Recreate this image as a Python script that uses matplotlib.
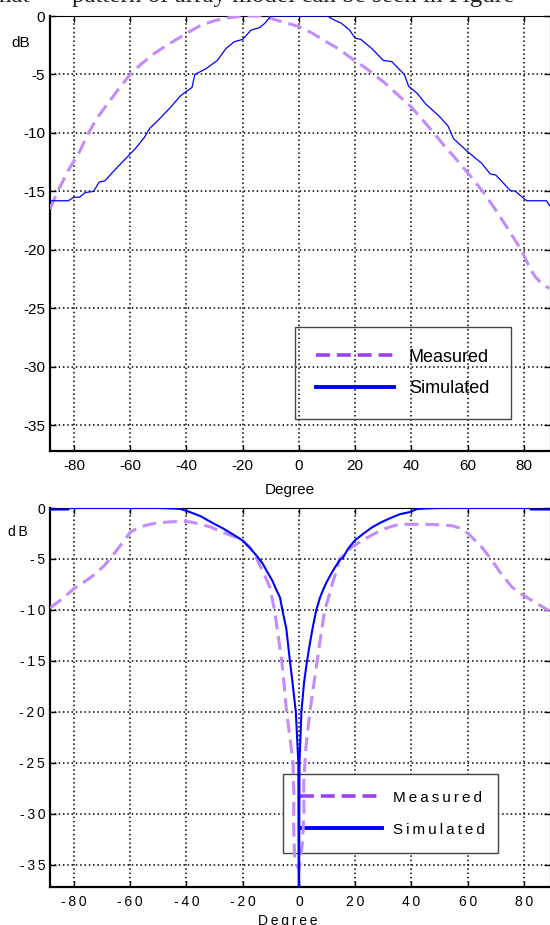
import matplotlib
matplotlib.use('Agg')
import matplotlib.pyplot as plt
from matplotlib.lines import Line2D

plt.rcParams['font.family'] = ['Liberation Sans', 'DejaVu Sans']
plt.rcParams['lines.scale_dashes'] = False

# ---------------- data ----------------
xticks = [-80, -60, -40, -20, 0, 20, 40, 60, 80]
yticks = [0, -5, -10, -15, -20, -25, -30, -35]
legend_labels = ['Measured', 'Simulated']
x_label = 'Degree'
y_label = 'dB'
caption_a = 'that'
caption_b = 'pattern of array model can be seen in Figure'

# top panel
top_meas_deg = [-88.5, -86, -82, -78, -75, -72, -68, -64, -60, -56, -52, -47, -40, -35, -30,
                -25, -20, -13, -10, -6, 0, 5, 9, 14, 18.6, 24.6, 30.4, 35, 40, 44, 48, 52,
                55.4, 60, 66, 70, 74.6, 79, 82, 84, 86, 89]
top_meas_db = [-16.5, -15.1, -13.2, -11.6, -10.1, -8.8, -7.5, -6.2, -5.0, -4.1, -3.3, -2.5,
               -1.5, -0.8, -0.4, -0.15, 0.0, 0.0, -0.2, -0.5, -0.9, -1.5, -2.1, -2.8, -3.6,
               -4.6, -5.7, -6.7, -7.8, -8.9, -10.0, -11.2, -12.1, -13.4, -15.2, -16.6,
               -18.3, -20.0, -21.5, -22.3, -22.8, -23.3]
top_sim_deg = [-88.5, -82, -80, -78, -76, -73, -71, -69, -66, -62, -58, -55, -53, -50, -46,
               -42, -38, -37, -33, -29, -26, -23, -20, -17, -14, -12, -10, 10, 13, 15, 18,
               20, 22, 26, 30, 33, 37.5, 39, 42, 45, 50, 53, 55, 60, 65, 68, 70, 72, 75,
               77, 79, 81, 88, 89.1]
top_sim_db = [-15.8, -15.8, -15.5, -15.5, -15.1, -15.0, -14.2, -14.1, -13.3, -12.3, -11.3,
              -10.4, -9.6, -8.9, -7.9, -6.8, -6.1, -5.0, -4.5, -3.8, -2.8, -2.2, -2.0, -1.2,
              -1.0, -0.6, 0.0, 0.0, -0.4, -0.6, -1.2, -1.9, -2.0, -2.8, -3.8, -3.9, -5.0,
              -6.0, -6.6, -7.5, -8.6, -9.4, -10.5, -11.6, -12.6, -13.5, -13.6, -14.1, -14.9,
              -15.0, -15.4, -15.8, -15.8, -16.2]

# bottom panel
bot_meas_deg = [-88.5, -84, -80, -76, -73, -69, -66, -63, -60, -57, -53, -50, -45, -41, -38,
                -35, -31, -28, -24, -20.3, -17, -14.6, -12.5, -10.3, -8.7, -7.4, -6.1, -5.2,
                -4.4, -3.2, -2.1, -1.8, -1.9, -1.5, 0, 1.2, 1.8, 1.7, 2.5, 3.9, 5.2, 6.5,
                7.8, 9.2, 10.3, 12, 13.4, 14.5, 17, 19, 23, 27, 30, 33, 36, 45, 50, 54.6,
                57.5, 60.6, 63, 65.2, 68.8, 72, 75.9, 80, 83, 86, 89]
bot_meas_db = [-9.8, -8.9, -7.9, -7.2, -6.6, -5.6, -4.6, -3.5, -2.4, -1.9, -1.6, -1.45,
               -1.35, -1.3, -1.4, -1.6, -1.9, -2.3, -2.7, -3.1, -4.0, -5.2, -6.4, -7.8,
               -10.0, -12.5, -15.0, -17.5, -20.0, -22.5, -25.0, -28.0, -31.0, -34.5, -35.5,
               -33.0, -30.0, -27.0, -23.5, -20.0, -17.5, -15.0, -12.5, -10.0, -9.0, -7.3,
               -6.2, -5.0, -4.3, -3.8, -3.1, -2.5, -2.1, -1.8, -1.6, -1.6, -1.65, -1.75,
               -2.0, -2.6, -3.3, -3.9, -5.2, -6.5, -7.8, -8.6, -9.1, -9.6, -10.1]
bot_sim_deg = [-88.5, -82, -81.5, -50, -45, -42, -39.7, -35, -30.5, -27, -23.4, -20, -17.5,
               -15, -13, -11.4, -9.5, -7.9, -6.7, -5.9, -4.5, -3.2, -2.2, -1.1, -0.2, 0,
               0.2, 0.9, 1.8, 2.9, 3.9, 5, 6.2, 7.5, 8.5, 9.8, 12, 14.5, 15.6, 17.5, 19.8,
               23, 26, 28.6, 30, 33.3, 36, 39.4, 42, 45, 50, 82, 82.5, 89.1]
bot_sim_db = [-0.15, -0.15, 0.0, 0.0, -0.05, -0.1, -0.3, -0.8, -1.5, -2.0, -2.6, -3.2, -3.9,
              -4.7, -5.4, -6.2, -7.1, -8.1, -8.8, -10.0, -11.8, -15.0, -17.3, -20.0, -25.0,
              -45.0, -25.0, -20.0, -17.2, -15.0, -13.3, -11.6, -10.0, -8.8, -8.1, -7.3,
              -6.2, -5.1, -4.9, -4.0, -3.2, -2.5, -1.9, -1.5, -1.3, -0.9, -0.6, -0.4, -0.1,
              -0.05, 0.0, 0.0, -0.15, -0.15]

# ---------------- styles ----------------
W, H = 550, 925
MEAS_C = '#c48cfb'
MEAS_LEG_C = '#9a42f3'
SIM_C = '#0000ff'

fig = plt.figure(figsize=(W / 100, H / 100), dpi=100)


def px_axes(l, t, r, b):
    return fig.add_axes([l / W, 1 - b / H, (r - l) / W, (b - t) / H])


def spaced(s):
    return '\u2009'.join(str(s))


def style(ax, fs, fmt, xpad):
    ax.set_xlim(-88.5, 89.1)
    ax.set_ylim(-37.2, 0)
    ax.set_xticks(xticks)
    ax.set_yticks(yticks)
    ax.set_xticklabels([fmt(v) for v in xticks])
    ax.set_yticklabels([fmt(v) for v in yticks])
    ax.set_axisbelow(True)
    ax.grid(True, color='black', linestyle=(0, (1.1, 2.0)), linewidth=1.1)
    ax.tick_params(direction='in', length=4, width=1, top=True, right=True,
                   labelsize=fs, colors='black')
    ax.tick_params(axis='x', pad=xpad)
    ax.tick_params(axis='y', pad=3.5)
    for s in ['left', 'bottom']:
        ax.spines[s].set_linewidth(1.6)
    for s in ['top', 'right']:
        ax.spines[s].set_linewidth(0.8)


ax1 = px_axes(50, 16, 549.5, 451)
ax2 = px_axes(50, 508, 549.5, 887)

style(ax1, 11, str, 6.0)
style(ax2, 10, spaced, 5.5)

# top panel curves
ax1.plot(top_meas_deg, top_meas_db, color=MEAS_C, lw=2.2, dashes=(10, 5), zorder=3)
ax1.plot(top_sim_deg, top_sim_db, color=SIM_C, lw=0.9, zorder=3)

h1 = Line2D([], [], color=MEAS_LEG_C, lw=2.6, dashes=(10, 5))
h2 = Line2D([], [], color=SIM_C, lw=2.8)
leg1 = ax1.legend([h1, h2], legend_labels, loc='upper left',
                  bbox_to_anchor=(0.4905, 0.078, 0.4325, 0.207), mode='expand',
                  fontsize=13, borderpad=1.19, labelspacing=0.82, handlelength=4.28,
                  handletextpad=0.83, fancybox=False, framealpha=1, edgecolor='#444444',
                  borderaxespad=0)
leg1.get_frame().set_linewidth(1.0)
leg1.get_frame().set_facecolor('none')

# bottom panel curves
ax2.plot(bot_meas_deg, bot_meas_db, color=MEAS_C, lw=2.2, dashes=(10, 5), zorder=3)
ax2.plot(bot_sim_deg, bot_sim_db, color=SIM_C, lw=1.5, zorder=3)

leg2 = ax2.legend([h1, h2], [spaced(l) for l in legend_labels], loc='upper left',
                  bbox_to_anchor=(0.4665, 0.0897, 0.4305, 0.2083), mode='expand',
                  fontsize=11, borderpad=1.08, labelspacing=1.19, handlelength=5.42,
                  handletextpad=0.72, fancybox=False, framealpha=1, facecolor='white',
                  edgecolor='#444444', borderaxespad=0)
leg2.get_frame().set_linewidth(1.0)
leg2.set_zorder(1.5)

# labels
fig.text(21 / W, 1 - 43 / H, y_label, ha='center', va='center', fontsize=11)
fig.text(290 / W, 1 - 490 / H, x_label, ha='center', va='center', fontsize=11)
fig.text(18 / W, 1 - 532 / H, spaced(y_label), ha='center', va='center', fontsize=10)
fig.text(288 / W, 1 - 921 / H, spaced(x_label), ha='center', va='center', fontsize=10)
serif = ['Liberation Serif', 'DejaVu Serif']
fig.text(30 / W, 1 - 2 / H, caption_a, ha='right', va='baseline', fontsize=18,
         family=serif, color='#222222')
fig.text(72 / W, 1 - 2 / H, caption_b, ha='left', va='baseline', fontsize=18,
         family=serif, color='#222222')

fig.savefig('out.png', dpi=100)
